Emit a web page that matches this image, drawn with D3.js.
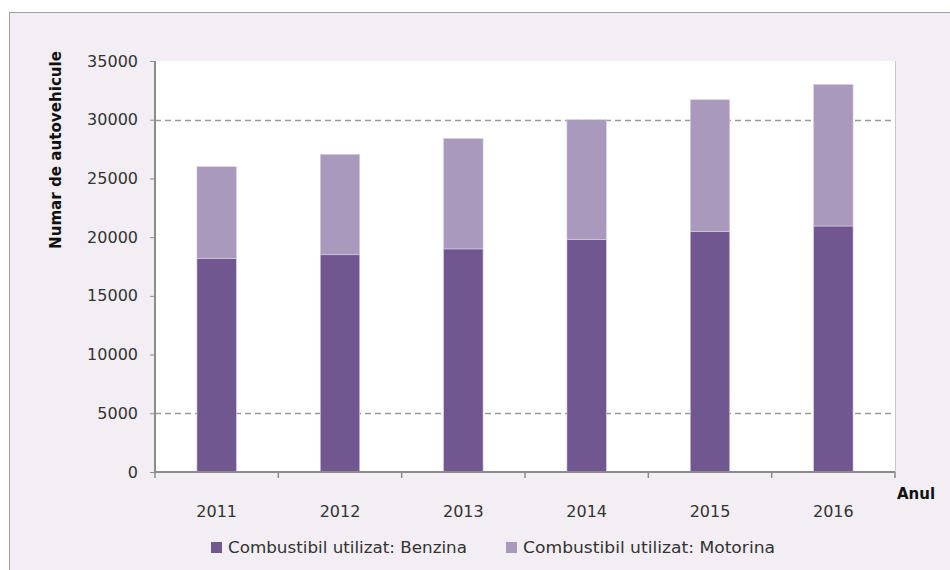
<!DOCTYPE html>
<html><head><meta charset="utf-8">
<script src="https://cdn.jsdelivr.net/npm/d3@7"></script>
<style>body{margin:0;background:#fff}svg{display:block}</style>
</head><body>
<svg id="c" width="950" height="570"></svg>
<script>
const years = ["2011","2012","2013","2014","2015","2016"];
const benzina = [18200, 18500, 19000, 19800, 20500, 20950];
const motorina = [7800, 8550, 9400, 10200, 11200, 12050];
const yTicks = [0, 5000, 10000, 15000, 20000, 25000, 30000, 35000];
const gridValues = [5000, 30000];
const seriesNames = ["Combustibil utilizat: Benzina", "Combustibil utilizat: Motorina"];
const colors = ["#70578f", "#a899bd"];

const svg = d3.select("#c");
const font = "DejaVu Sans, sans-serif";
svg.append("rect").attr("x",0).attr("y",0).attr("width",950).attr("height",570).attr("fill","#fff");
svg.append("rect").attr("x",9.5).attr("y",12.5).attr("width",950).attr("height",570)
  .attr("fill","#f2eef4").attr("stroke","#a0a0a0").attr("stroke-width",1);

const L=155, R=895, T=61, B=472;
svg.append("rect").attr("x",L).attr("y",T).attr("width",R-L).attr("height",B-T).attr("fill","#fff");
svg.append("line").attr("x1",R+0.5).attr("x2",R+0.5).attr("y1",T).attr("y2",B).attr("stroke","#c8c8c8");

const x = d3.scaleBand().domain(years).range([L,R]).paddingInner(0.68).paddingOuter(0.34);
const y = d3.scaleLinear().domain([0,35000]).range([B,T]);

// gridlines
svg.append("g").selectAll("line").data(gridValues).join("line")
  .attr("x1",L).attr("x2",R).attr("y1",d=>Math.round(y(d))+0.5).attr("y2",d=>Math.round(y(d))+0.5)
  .attr("stroke","#9a9a9a").attr("stroke-width",1.3).attr("stroke-dasharray","6,4");

const data = years.map((yr,i)=>({year:yr, b:benzina[i], m:motorina[i]}));
const stack = d3.stack().keys(["b","m"])(data);
svg.append("g").selectAll("g").data(stack).join("g").attr("fill",(d,i)=>colors[i])
  .selectAll("rect").data(d=>d).join("rect")
  .attr("x",d=>x(d.data.year)).attr("width",x.bandwidth())
  .attr("y",d=>y(d[1])).attr("height",d=>y(d[0])-y(d[1]))
  .attr("stroke","#d9d0e4").attr("stroke-width",0.6);

// y axis
const yAxis = svg.append("g").attr("transform",`translate(${L},0)`)
  .call(d3.axisLeft(y).tickValues(yTicks).tickSize(5).tickPadding(12).tickFormat(d3.format("d")));
yAxis.select(".domain").attr("stroke","#8c8c8c").attr("stroke-width",2).attr("d",`M0,${T}V${B}`);
yAxis.selectAll(".tick line").attr("stroke","#8c8c8c");
yAxis.selectAll("text").attr("font-family",font).attr("font-size",16).attr("fill","#333");

// x axis
const xAxis = svg.append("g").attr("transform",`translate(0,${B})`)
  .call(d3.axisBottom(x).tickSize(0).tickPadding(34));
xAxis.select(".domain").attr("stroke","#8c8c8c").attr("stroke-width",2).attr("d",`M${L},0H${R}`);
xAxis.selectAll("text").attr("font-family",font).attr("font-size",16).attr("fill","#333");
const bounds = d3.range(years.length+1).map(i=>L+i*(R-L)/years.length);
xAxis.append("g").selectAll("line").data(bounds).join("line")
  .attr("x1",d=>d).attr("x2",d=>d).attr("y1",0).attr("y2",6).attr("stroke","#8c8c8c").attr("stroke-width",1.5);

// axis titles
svg.append("text").attr("transform","translate(61,150) rotate(-90)").attr("text-anchor","middle")
  .attr("font-family",font).attr("font-size",15).attr("font-weight","bold").attr("fill","#111")
  .attr("textLength",198).attr("lengthAdjust","spacingAndGlyphs").text("Numar de autovehicule");
svg.append("text").attr("x",897).attr("y",499).attr("font-family",font).attr("font-size",15)
  .attr("font-weight","bold").attr("fill","#111").text("Anul");

// legend
const leg = [{sx:211, tx:228, tw:239},{sx:506, tx:523, tw:252}];
leg.forEach((l,i)=>{
  svg.append("rect").attr("x",l.sx).attr("y",542).attr("width",11).attr("height",11).attr("fill",colors[i]);
  svg.append("text").attr("x",l.tx).attr("y",553).attr("font-family",font).attr("font-size",15)
    .attr("fill","#333").attr("textLength",l.tw).attr("lengthAdjust","spacingAndGlyphs").text(seriesNames[i]);
});
</script>
</body></html>
